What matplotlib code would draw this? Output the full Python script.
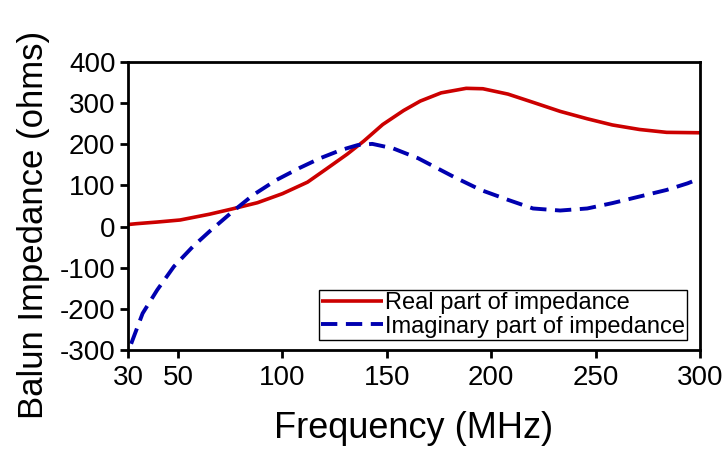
import matplotlib
matplotlib.use("Agg")
import matplotlib.pyplot as plt

# Data
real_f = [26, 30, 40, 51, 65, 76, 88, 100, 112, 121, 131, 139, 148, 158, 166,
          176, 188, 196, 208, 220, 233, 246, 258, 271, 284, 300]
real_z = [5, 7, 11, 16, 30, 43, 58, 80, 108, 140, 176, 208, 248, 282, 305,
          325, 336, 335, 322, 302, 280, 262, 247, 236, 229, 228]

imag_f = [27.5, 33, 40, 48, 57, 65, 76, 86, 97, 108, 118, 128, 136, 143, 153,
          165, 182, 195, 208, 220, 233, 246, 258, 271, 284, 294, 300]
imag_z = [-285, -211, -154, -97, -49, -12, 36, 77, 113, 142, 166, 186, 198, 201, 190,
          166, 121, 89, 65, 44, 39, 44, 57, 73, 89, 105, 117]

x_ticks = [26, 50, 100, 150, 200, 250, 300]
x_tick_labels = ["30", "50", "100", "150", "200", "250", "300"]
y_ticks = [-300, -200, -100, 0, 100, 200, 300, 400]

plt.rcParams['font.family'] = ['Liberation Sans', 'DejaVu Sans']
plt.rcParams['axes.unicode_minus'] = False

fig = plt.figure(figsize=(7.28, 4.5), dpi=100)
ax = fig.add_axes([128/728, 1-350/450, (700-128)/728, (350-62)/450])

ax.plot(real_f, real_z, color='#cc0000', lw=2.6, solid_capstyle='butt',
        label='Real part of impedance')
ax.plot(imag_f, imag_z, color='#0000b0', lw=2.8, dashes=(4.2, 2.2),
        label='Imaginary part of impedance')

ax.set_xlim(26, 300)
ax.set_ylim(-300, 400)
ax.set_xticks(x_ticks)
ax.set_xticklabels(x_tick_labels)
ax.set_yticks(y_ticks)
ax.tick_params(axis='both', direction='out', length=6, width=2, labelsize=20, pad=3)
ax.tick_params(axis='x', pad=5)
for s in ax.spines.values():
    s.set_linewidth(2)
    s.set_color('black')

ax.set_xlabel('Frequency (MHz)', fontsize=26, labelpad=14)
ax.set_ylabel('Balun Impedance (ohms)', fontsize=25)
ax.yaxis.set_label_coords(-0.136, 0.435)

leg = ax.legend(loc='lower right', bbox_to_anchor=(0.978, 0.035), fontsize=17,
                frameon=True, fancybox=False, edgecolor='black', framealpha=1,
                handlelength=2.6, handletextpad=0.1, borderpad=0.1,
                labelspacing=0.05, borderaxespad=0)
leg.get_frame().set_linewidth(1)

fig.savefig('out.png', dpi=100)
